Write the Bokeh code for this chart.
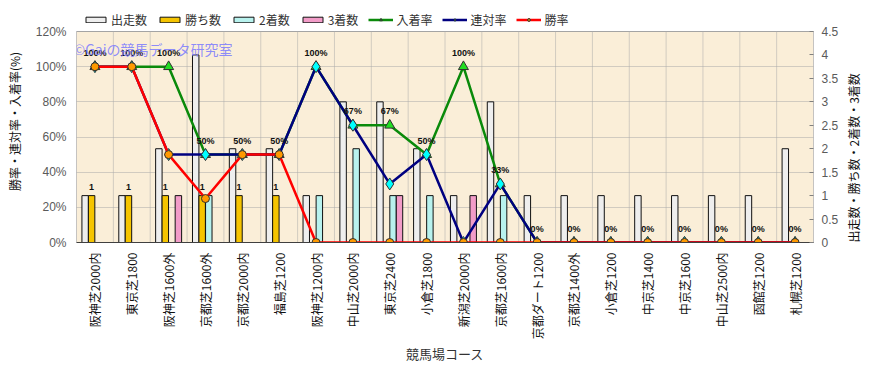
from bokeh.plotting import figure
from bokeh.models import (Range1d, LinearAxis, FixedTicker, PrintfTickFormatter,
                          CustomJSTickFormatter, Legend, LegendItem, Label, ColumnDataSource)
from bokeh.core.properties import value
from bokeh.embed import file_html
from bokeh.resources import INLINE
import math

courses = ["阪神芝2000内", "東京芝1800", "阪神芝1600外", "京都芝1600外", "京都芝2000内",
           "福島芝1200", "阪神芝1200内", "中山芝2000内", "東京芝2400", "小倉芝1800",
           "新潟芝2000内", "京都芝1600内", "京都ダート1200", "京都芝1400外", "小倉芝1200",
           "中京芝1400", "中京芝1600", "中山芝2500内", "函館芝1200", "札幌芝1200"]
runs = [1, 1, 2, 4, 2, 2, 1, 3, 3, 2, 1, 3, 1, 1, 1, 1, 1, 1, 1, 2]
wins = [1, 1, 1, 1, 1, 1, 0, 0, 0, 0, 0, 0, 0, 0, 0, 0, 0, 0, 0, 0]
seconds = [0, 0, 0, 1, 0, 0, 1, 2, 1, 1, 0, 1, 0, 0, 0, 0, 0, 0, 0, 0]
thirds = [0, 0, 1, 0, 0, 0, 0, 0, 1, 0, 1, 0, 0, 0, 0, 0, 0, 0, 0, 0]
win_rate = [100, 100, 50, 25, 50, 50, 0, 0, 0, 0, 0, 0, 0, 0, 0, 0, 0, 0, 0, 0]
rentai_rate = [100, 100, 50, 50, 50, 50, 100, 66.7, 33.3, 50, 0, 33.3, 0, 0, 0, 0, 0, 0, 0, 0]
place_rate = [100, 100, 100, 50, 50, 50, 100, 66.7, 66.7, 50, 100, 33.3, 0, 0, 0, 0, 0, 0, 0, 0]
left_ticks = [0, 20, 40, 60, 80, 100, 120]
right_ticks = [0, 0.5, 1, 1.5, 2, 2.5, 3, 3.5, 4, 4.5]

JP = "Noto Sans CJK JP"
NUM = "Liberation Sans"
n = len(courses)
xc = [i + 0.5 for i in range(n)]

# frame spans from canvas top to the 0-line; the data box occupies its lower 211 px
FRAME_H = 242
BOX_H = 211
ytop = left_ticks[-1] * FRAME_H / BOX_H
ctop = right_ticks[-1] * FRAME_H / BOX_H

p = figure(width=873, height=370, output_backend="svg", toolbar_location=None,
           x_range=Range1d(0, n), y_range=Range1d(0, ytop),
           min_border_left=76, min_border_right=59, min_border_top=0, min_border_bottom=128)
p.extra_y_ranges = {"cnt": Range1d(0, ctop)}
p.background_fill_color = "white"
p.border_fill_color = "white"
p.outline_line_color = None

# data box background and vertical grid
p.quad(left=0, right=n, bottom=0, top=left_ticks[-1], fill_color="#FAEED8",
       line_color="#A0A0A0", line_width=1, level="underlay")
p.segment(x0=list(range(n + 1)), y0=0, x1=list(range(n + 1)), y1=left_ticks[-1],
          line_color="#A8A8A8", line_dash="1 1", line_width=1, level="underlay")

# axes
p.yaxis.ticker = FixedTicker(ticks=left_ticks)
p.yaxis.formatter = PrintfTickFormatter(format="%d%%")
p.yaxis.major_label_text_font = NUM
p.yaxis.major_label_text_font_size = "12px"
p.yaxis.major_label_text_color = "#5A5A5A"
p.yaxis.major_tick_line_color = None
p.yaxis.major_tick_out = 0
p.yaxis.minor_tick_line_color = None
p.yaxis.axis_line_color = None
p.yaxis.major_label_standoff = 10
p.yaxis.axis_label = "勝率・連対率・入着率(%)"
p.yaxis.axis_label_text_font = JP
p.yaxis.axis_label_text_font_size = "12px"
p.yaxis.axis_label_text_font_style = "normal"
p.yaxis.axis_label_text_color = "#111111"
p.yaxis.axis_label_standoff = 10

ra = LinearAxis(y_range_name="cnt", ticker=FixedTicker(ticks=right_ticks),
                formatter=CustomJSTickFormatter(code="return String(tick)"))
ra.major_label_text_font = NUM
ra.major_label_text_font_size = "12px"
ra.major_label_text_color = "#5A5A5A"
ra.major_tick_in = 4
ra.major_tick_out = 0
ra.major_tick_line_color = "#808080"
ra.minor_tick_line_color = None
ra.axis_line_color = None
ra.major_label_standoff = 8
ra.axis_label = "出走数・勝ち数・2着数・3着数"
ra.axis_label_text_font = JP
ra.axis_label_text_font_size = "12px"
ra.axis_label_text_font_style = "normal"
ra.axis_label_text_color = "#111111"
ra.axis_label_standoff = 12
props = LinearAxis.properties()
if "axis_label_orientation" in props and "axis_label_align" in props:
    ra.axis_label_orientation = math.pi / 2
    ra.axis_label_align = "start"
p.add_layout(ra, "right")

p.xaxis.ticker = FixedTicker(ticks=xc)
p.xaxis.major_label_overrides = {x: c for x, c in zip(xc, courses)}
p.xaxis.major_label_orientation = math.pi / 2
p.xaxis.major_label_text_font = JP
p.xaxis.major_label_text_font_size = "12px"
p.xaxis.major_label_text_color = "#111111"
p.xaxis.major_tick_line_color = None
p.xaxis.major_tick_out = 0
p.xaxis.minor_tick_line_color = None
p.xaxis.axis_line_color = "#404040"
p.xaxis.major_label_standoff = 10
p.xaxis.axis_label = "競馬場コース"
p.xaxis.axis_label_text_font = JP
p.xaxis.axis_label_text_font_size = "13px"
p.xaxis.axis_label_text_font_style = "normal"
p.xaxis.axis_label_text_color = "#333333"
p.xaxis.axis_label_standoff = 2

p.ygrid.ticker = FixedTicker(ticks=left_ticks)
p.ygrid.grid_line_color = "#A8A8A8"
p.ygrid.grid_line_dash = "1 1"
p.xgrid.visible = False

# bars
bw = 0.175
offs = [-0.265, -0.09, 0.09, 0.265]
bar_specs = [("出走数", runs, "#EEEEEE"), ("勝ち数", wins, "#F5C400"),
             ("2着数", seconds, "#B8F2EE"), ("3着数", thirds, "#F29CC8")]
items = []
for (name, vals, col), off in zip(bar_specs, offs):
    r = p.vbar(x=[x + off for x in xc], top=vals, width=bw, bottom=0, y_range_name="cnt",
               fill_color=col, line_color="#111111", line_width=1)
    items.append(LegendItem(label=name, renderers=[r]))

# lines
line_specs = [("入着率", place_rate, "#0A8A0A", "triangle", "#22DD22", 10),
              ("連対率", rentai_rate, "#000080", "diamond", "#00FFFF", 12),
              ("勝率", win_rate, "#FF0000", "circle", "#FF9900", 8)]
for name, vals, lc, mk, fc, sz in line_specs:
    lr = p.line(xc, vals, line_color=lc, line_width=2.5)
    sr = p.scatter(xc, vals, marker=mk, size=sz, fill_color=fc, line_color="#303030", line_width=1)
    items.append(LegendItem(label=name, renderers=[lr, sr]))

# data labels
src_p = ColumnDataSource(dict(x=xc, y=place_rate, t=["%d%%" % round(v) for v in place_rate]))
p.text(x="x", y="y", text="t", source=src_p, text_align="center", text_baseline="bottom",
       y_offset=-9, text_font=value(NUM), text_font_style="bold",
       text_font_size="9px", text_color="#111111")
wx = [x + offs[1] for x, w in zip(xc, wins) if w > 0]
wy = [w for w in wins if w > 0]
p.text(x=wx, y=wy, text=[str(w) for w in wy], y_range_name="cnt", text_align="center",
       text_baseline="bottom", y_offset=-6, text_font=value(NUM),
       text_font_style="bold", text_font_size="9px", text_color="#111111")

# watermark
p.add_layout(Label(x=-0.08, y=110.3, text="©Gaiの競馬データ研究室", text_font=JP,
                   text_font_size="14px", text_color="#7B7BFF", text_alpha=0.85,
                   text_baseline="middle", text_align="left"))

legend = Legend(items=items, orientation="horizontal", location=(7, FRAME_H - 28),
                background_fill_alpha=0, border_line_color=None, padding=0, margin=0,
                spacing=10, label_standoff=3, glyph_width=25, glyph_height=7,
                label_height=14, label_text_font=JP, label_text_font_size="12px",
                label_text_color="#333333")
p.add_layout(legend, "center")

open("out.html", "w").write(file_html(p, INLINE))
